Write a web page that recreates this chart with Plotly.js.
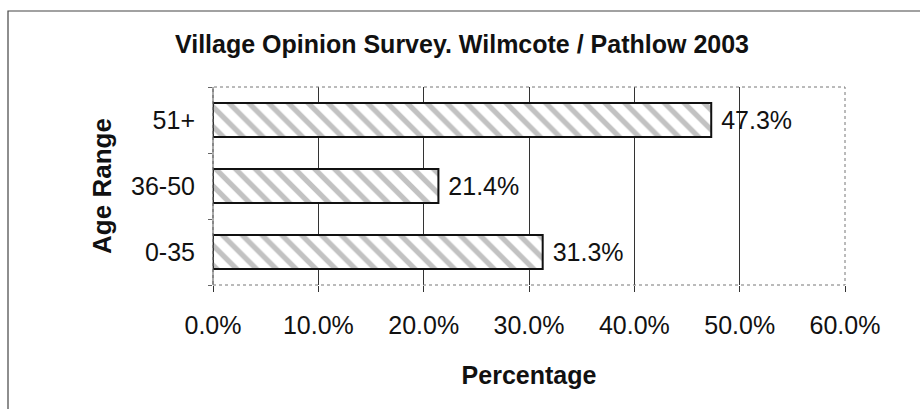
<!DOCTYPE html>
<html>
<head>
<meta charset="utf-8">
<script src="https://cdn.plot.ly/plotly-3.0.1.min.js"></script>
<style>html,body{margin:0;padding:0;background:#fff;}#chart{width:920px;height:409px;}</style>
</head>
<body>
<div id="chart"></div>
<script>
const ageRanges = ["0-35", "36-50", "51+"];
const percentages = [0.313, 0.214, 0.473];
const labels = ["31.3%", "21.4%", "47.3%"];
const xTickVals = [0, 0.1, 0.2, 0.3, 0.4, 0.5, 0.6];
const xTickText = ["0.0%", "10.0%", "20.0%", "30.0%", "40.0%", "50.0%", "60.0%"];

const font = "Liberation Sans, Arial, sans-serif";
const L = 213, R = 845, T = 87, B = 285;
const W = 920, H = 409;
const px2x = p => (p - L) / (R - L);
const py2y = p => (B - p) / (B - T);

const trace = {
  type: "bar",
  orientation: "h",
  y: ageRanges,
  x: percentages,
  text: labels,
  texttemplate: " %{text}",
  textposition: "outside",
  cliponaxis: false,
  textfont: {family: font, size: 25, color: "#111"},
  marker: {
    color: "#ffffff",
    line: {color: "#111", width: 2},
    pattern: {shape: "\\", fgcolor: "#858585", bgcolor: "#ffffff", size: 14, solidity: 0.38, fillmode: "overlay"}
  },
  hoverinfo: "none"
};

const layout = {
  width: W, height: H,
  margin: {l: L, r: W - R, t: T, b: H - B, pad: 0},
  paper_bgcolor: "#fff",
  plot_bgcolor: "#fff",
  showlegend: false,
  bargap: 0.485,
  title: {text: "<b>Village Opinion Survey. Wilmcote / Pathlow 2003</b>", font: {family: font, size: 25, color: "#111"}, x: 462 / W, xanchor: "center", y: 1 - 44 / H, yanchor: "middle"},
  xaxis: {
    range: [0, 0.6],
    tickvals: xTickVals,
    ticktext: xTickText,
    tickfont: {family: font, size: 25, color: "#111"},
    showgrid: true, gridcolor: "#333", gridwidth: 1,
    zeroline: false,
    showline: false,
    ticks: "outside", ticklen: 6, tickcolor: "#333",
    ticklabelstandoff: 12,
    title: {text: "<b>Percentage</b>", font: {family: font, size: 25, color: "#111"}, standoff: 28},
    fixedrange: true
  },
  yaxis: {
    type: "category",
    tickfont: {family: font, size: 25, color: "#111"},
    showgrid: false,
    zeroline: false,
    showline: false,
    ticks: "outside", ticklen: 4, tickcolor: "#666", tickson: "boundaries",
    ticklabelstandoff: 17,
    title: {text: "<b>Age Range</b>", font: {family: font, size: 26, color: "#111"}, standoff: 11},
    fixedrange: true
  },
  shapes: [
    {type: "rect", xref: "paper", yref: "paper", x0: 0, x1: 1, y0: 0, y1: 1, line: {color: "#777", width: 1, dash: "dot"}, layer: "above"},
    {type: "line", xref: "paper", yref: "paper", x0: 0, x1: 0, y0: 0, y1: 1, line: {color: "#555", width: 1}, layer: "above"},
    {type: "rect", xref: "paper", yref: "paper", x0: px2x(8), x1: px2x(930), y0: py2y(420), y1: py2y(11), line: {color: "#444", width: 1.2}, layer: "below"}
  ]
};

Plotly.newPlot("chart", [trace], layout, {displayModeBar: false, staticPlot: true});
</script>
</body>
</html>
